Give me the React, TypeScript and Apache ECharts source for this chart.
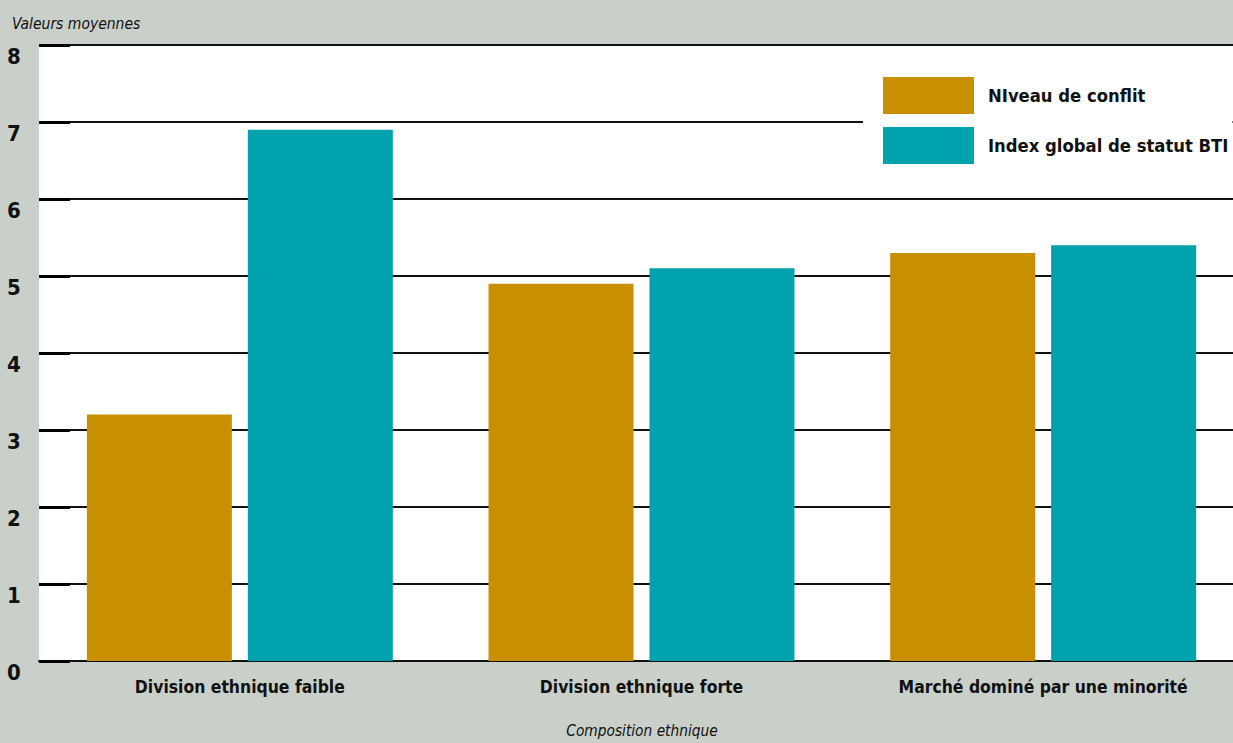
import React, { useEffect, useRef } from "react";
import * as echarts from "echarts";

const categories = ["Division ethnique faible", "Division ethnique forte", "Marché dominé par une minorité"];
const conflictValues = [3.2, 4.9, 5.3];
const btiValues = [6.9, 5.1, 5.4];
const seriesNames = ["NIveau de conflit", "Index global de statut BTI"];
const yAxisTitle = "Valeurs moyennes";
const xAxisTitle = "Composition ethnique";

const FONT = "'DejaVu Sans Condensed', 'Liberation Sans Narrow', 'DejaVu Sans', sans-serif";

export default function App() {
  const ref = useRef<HTMLDivElement>(null);
  useEffect(() => {
    document.body.style.margin = "0";
    const chart = echarts.init(ref.current!, null, { renderer: "svg" });
    chart.setOption({
      animation: false,
      backgroundColor: "#c9d0c9",
      textStyle: { fontFamily: FONT },
      grid: { left: 39, top: 45, right: 0, bottom: 82, backgroundColor: "#ffffff", show: true, borderWidth: 0 },
      legend: {
        orient: "vertical",
        left: 863,
        top: 67,
        itemWidth: 91,
        itemHeight: 37,
        itemGap: 13,
        padding: [10, 4, 8, 20],
        backgroundColor: "#ffffff",
        icon: "rect",
        textStyle: { fontFamily: FONT, fontWeight: "bold", fontSize: 18.3, color: "#111", padding: [6, 0, 0, 9] },
        data: seriesNames,
      },
      xAxis: {
        type: "category",
        data: categories,
        axisLine: { show: true, lineStyle: { color: "#111", width: 2 } },
        axisTick: { show: false },
        axisLabel: { fontFamily: FONT, fontWeight: "bold", fontSize: 17.4, color: "#111", margin: 17 },
      },
      yAxis: {
        type: "value",
        min: 0,
        max: 8,
        interval: 1,
        axisLine: { show: false },
        axisTick: { show: true, inside: true, length: 31, lineStyle: { color: "#000", width: 3 } },
        splitLine: { show: true, lineStyle: { color: "#111", width: 2 } },
        axisLabel: { fontFamily: FONT, fontWeight: "bold", fontSize: 22, color: "#111", margin: 25, align: "center", verticalAlign: "top" },
      },
      graphic: [
        { type: "text", left: 12, top: 16, style: { text: yAxisTitle, fontFamily: FONT, fontStyle: "italic", fontSize: 15.5, fill: "#111" } },
        { type: "text", x: 642, y: 731, style: { text: xAxisTitle, fontFamily: FONT, fontStyle: "italic", fontSize: 15.3, fill: "#111", align: "center", verticalAlign: "middle" } },
      ],
      series: [
        { name: seriesNames[0], type: "bar", data: conflictValues, barWidth: 145, barGap: "11%", itemStyle: { color: "#c89000" }, z: 3 },
        { name: seriesNames[1], type: "bar", data: btiValues, barWidth: 145, itemStyle: { color: "#00a2ad" }, z: 3 },
      ],
    });
    return () => chart.dispose();
  }, []);
  return (
    <div style={{ width: 1233, height: 743, overflow: "hidden", background: "#c9d0c9" }}>
      <div ref={ref} style={{ width: 1244, height: 743 }} />
    </div>
  );
}
